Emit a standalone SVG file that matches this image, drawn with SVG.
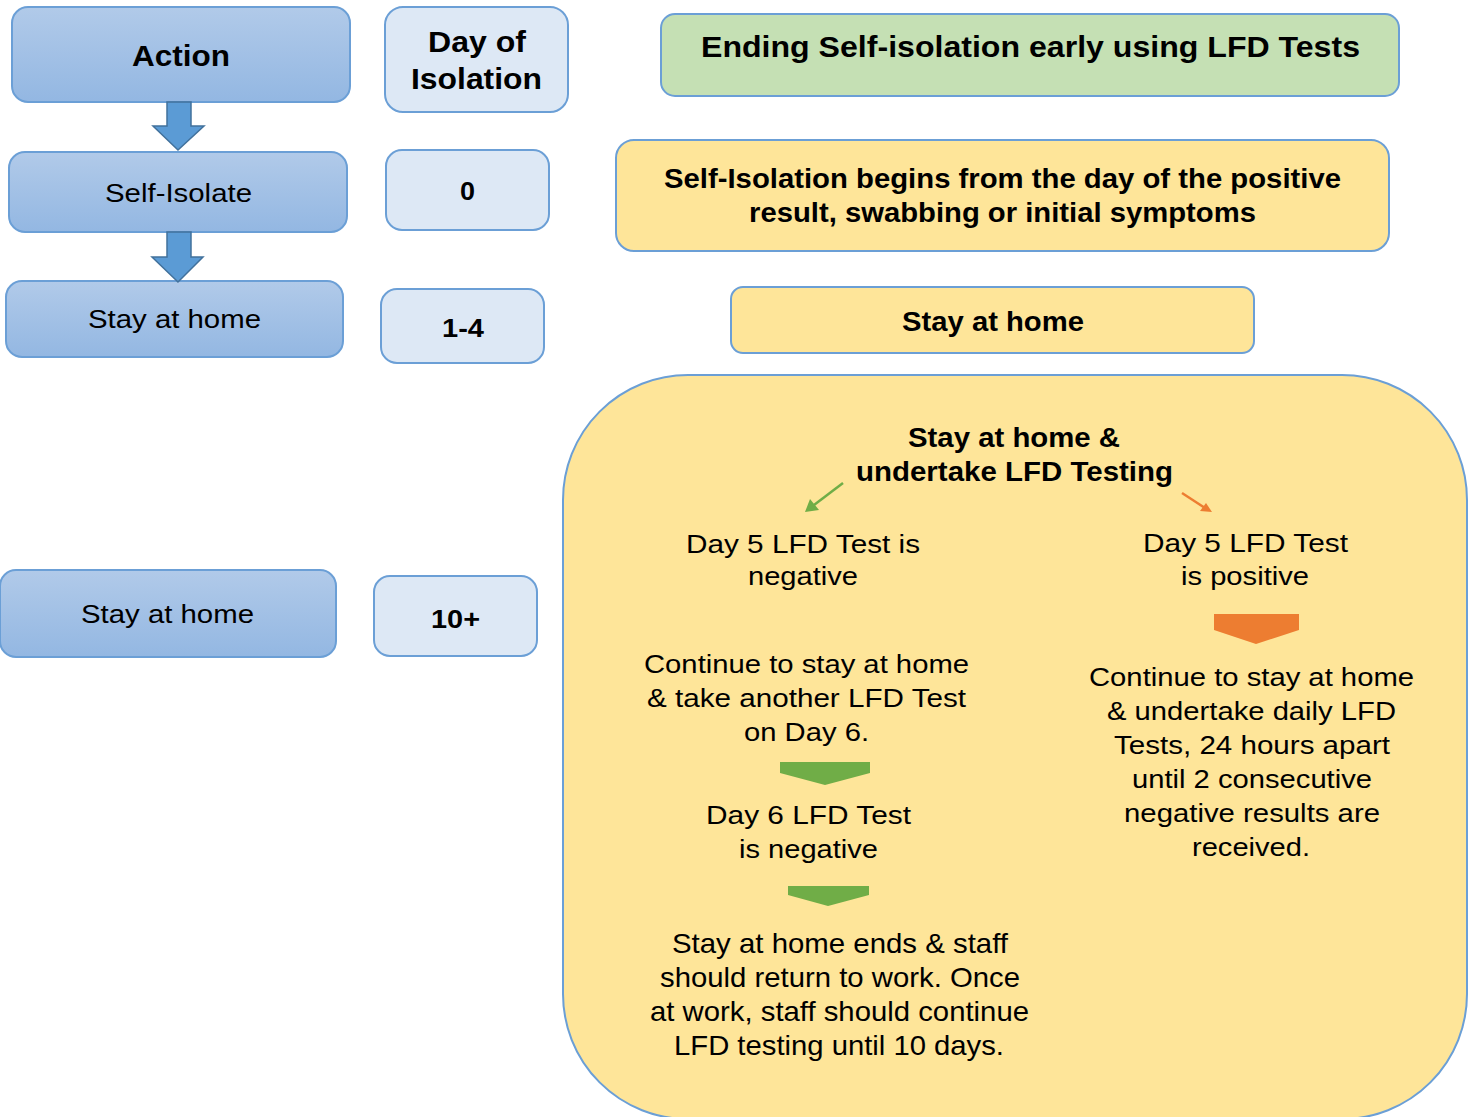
<svg xmlns="http://www.w3.org/2000/svg" width="1471" height="1117" viewBox="0 0 1471 1117">
  <defs>
    <linearGradient id="blueFill" x1="0" y1="0" x2="0" y2="1">
      <stop offset="0" stop-color="#b1cae9"/>
      <stop offset="1" stop-color="#93b7e2"/>
    </linearGradient>
  </defs>
  <style>
    text { font-family: "Liberation Sans", Arial, sans-serif; fill: #000; text-anchor: middle; }
    .action { fill: url(#blueFill); stroke: #6b9fd6; stroke-width: 2; }
    .day { fill: #dde8f5; stroke: #6b9fd6; stroke-width: 2; }
    .title { fill: #c5e0b4; stroke: #6b9fd6; stroke-width: 2; }
    .note { fill: #fee599; stroke: #6b9fd6; stroke-width: 2; }
    .down { fill: #5b9bd5; stroke: #41719c; stroke-width: 1.5; }
    .b { font-weight: bold; }
    .chev-g { fill: #70ad47; }
    .chev-o { fill: #ed7d31; }
  </style>

  <!-- action column -->
  <g id="node-action">
    <rect class="action" x="12" y="7" width="338" height="95" rx="16"/>
    <text class="b" x="181" y="66" font-size="29" textLength="98" lengthAdjust="spacingAndGlyphs">Action</text>
  </g>
  <g id="node-self-isolate">
    <rect class="action" x="9" y="152" width="338" height="80" rx="16"/>
    <text x="178.5" y="202" font-size="25" textLength="147" lengthAdjust="spacingAndGlyphs">Self-Isolate</text>
  </g>
  <g id="node-stay-1">
    <rect class="action" x="6" y="281" width="337" height="76" rx="16"/>
    <text x="174.5" y="328" font-size="25" textLength="173" lengthAdjust="spacingAndGlyphs">Stay at home</text>
  </g>
  <g id="node-stay-2">
    <rect class="action" x="0" y="570" width="336" height="87" rx="16"/>
    <text x="167.5" y="623" font-size="25" textLength="173" lengthAdjust="spacingAndGlyphs">Stay at home</text>
  </g>

  <!-- day column -->
  <g id="node-day-header">
    <rect class="day" x="385" y="7" width="183" height="105" rx="18"/>
    <text class="b" x="477" y="52" font-size="29" textLength="98" lengthAdjust="spacingAndGlyphs">Day of</text>
    <text class="b" x="476.5" y="89" font-size="29" textLength="131" lengthAdjust="spacingAndGlyphs">Isolation</text>
  </g>
  <g id="node-day-0">
    <rect class="day" x="386" y="150" width="163" height="80" rx="16"/>
    <text class="b" x="467.5" y="200" font-size="26" textLength="15" lengthAdjust="spacingAndGlyphs">0</text>
  </g>
  <g id="node-day-1-4">
    <rect class="day" x="381" y="289" width="163" height="74" rx="16"/>
    <text class="b" x="463" y="337" font-size="26" textLength="42" lengthAdjust="spacingAndGlyphs">1-4</text>
  </g>
  <g id="node-day-10">
    <rect class="day" x="374" y="576" width="163" height="80" rx="16"/>
    <text class="b" x="455.5" y="628" font-size="26" textLength="49" lengthAdjust="spacingAndGlyphs">10+</text>
  </g>

  <!-- guidance column -->
  <g id="node-title">
    <rect class="title" x="661" y="14" width="738" height="82" rx="14"/>
    <text class="b" x="1030.5" y="57" font-size="29" textLength="659" lengthAdjust="spacingAndGlyphs">Ending Self-isolation early using LFD Tests</text>
  </g>
  <g id="node-begins">
    <rect class="note" x="616" y="140" width="773" height="111" rx="18"/>
    <text class="b" x="1002.5" y="188" font-size="27" textLength="677" lengthAdjust="spacingAndGlyphs">Self-Isolation begins from the day of the positive</text>
    <text class="b" x="1002.5" y="222" font-size="27" textLength="507" lengthAdjust="spacingAndGlyphs">result, swabbing or initial symptoms</text>
  </g>
  <g id="node-stay-home">
    <rect class="note" x="731" y="287" width="523" height="66" rx="12"/>
    <text class="b" x="993" y="331" font-size="27" textLength="182" lengthAdjust="spacingAndGlyphs">Stay at home</text>
  </g>

  <g id="node-testing">
    <rect class="note" x="563" y="375" width="904" height="744" rx="125"/>
    <text class="b" x="1014" y="447" font-size="27" textLength="212" lengthAdjust="spacingAndGlyphs">Stay at home &amp;</text>
    <text class="b" x="1014.5" y="481" font-size="27" textLength="317" lengthAdjust="spacingAndGlyphs">undertake LFD Testing</text>

    <!-- negative branch -->
    <text x="803" y="553" font-size="26" textLength="234" lengthAdjust="spacingAndGlyphs">Day 5 LFD Test is</text>
    <text x="803" y="585" font-size="26" textLength="110" lengthAdjust="spacingAndGlyphs">negative</text>
    <text x="806.5" y="673" font-size="26" textLength="325" lengthAdjust="spacingAndGlyphs">Continue to stay at home</text>
    <text x="806.5" y="707" font-size="26" textLength="319" lengthAdjust="spacingAndGlyphs">&amp; take another LFD Test</text>
    <text x="806.5" y="741" font-size="26" textLength="125" lengthAdjust="spacingAndGlyphs">on Day 6.</text>
    <text x="808.5" y="824" font-size="26" textLength="205" lengthAdjust="spacingAndGlyphs">Day 6 LFD Test</text>
    <text x="808.5" y="858" font-size="26" textLength="139" lengthAdjust="spacingAndGlyphs">is negative</text>
    <text x="840" y="953" font-size="28" textLength="336" lengthAdjust="spacingAndGlyphs">Stay at home ends &amp; staff</text>
    <text x="840" y="987" font-size="28" textLength="360" lengthAdjust="spacingAndGlyphs">should return to work. Once</text>
    <text x="839.5" y="1021" font-size="28" textLength="379" lengthAdjust="spacingAndGlyphs">at work, staff should continue</text>
    <text x="839" y="1055" font-size="28" textLength="330" lengthAdjust="spacingAndGlyphs">LFD testing until 10 days.</text>

    <!-- positive branch -->
    <text x="1245.5" y="552" font-size="26" textLength="205" lengthAdjust="spacingAndGlyphs">Day 5 LFD Test</text>
    <text x="1245" y="585" font-size="26" textLength="128" lengthAdjust="spacingAndGlyphs">is positive</text>
    <text x="1251.5" y="686" font-size="26" textLength="325" lengthAdjust="spacingAndGlyphs">Continue to stay at home</text>
    <text x="1251.5" y="720" font-size="26" textLength="289" lengthAdjust="spacingAndGlyphs">&amp; undertake daily LFD</text>
    <text x="1252" y="754" font-size="26" textLength="276" lengthAdjust="spacingAndGlyphs">Tests, 24 hours apart</text>
    <text x="1252" y="788" font-size="26" textLength="240" lengthAdjust="spacingAndGlyphs">until 2 consecutive</text>
    <text x="1252" y="822" font-size="26" textLength="256" lengthAdjust="spacingAndGlyphs">negative results are</text>
    <text x="1251" y="856" font-size="26" textLength="118" lengthAdjust="spacingAndGlyphs">received.</text>
  </g>

  <!-- connectors -->
  <g id="connectors">
    <!-- block arrows between action steps -->
    <polygon class="down" points="167,102 191,102 191,126 204,126 178,150 153,126 167,126"/>
    <polygon class="down" points="167,232 191,232 191,257 203,257 178,282 152,257 167,257"/>

    <!-- branch arrows under the testing heading -->
    <line x1="843" y1="483" x2="814" y2="505" stroke="#70ad47" stroke-width="2.5"/>
    <polygon points="805,512 810,499 819,510" fill="#70ad47"/>
    <line x1="1182" y1="493" x2="1205" y2="508" stroke="#ed7d31" stroke-width="2.5"/>
    <polygon points="1212,512 1200,511 1206,503" fill="#ed7d31"/>

    <!-- chevrons -->
    <polygon class="chev-o" points="1214,614 1299,614 1299,630 1256,644 1214,630"/>
    <polygon class="chev-g" points="780,762 870,762 870,773 825,785 780,773"/>
    <polygon class="chev-g" points="788,886 869,886 869,895 828,906 788,895"/>
  </g>
</svg>
